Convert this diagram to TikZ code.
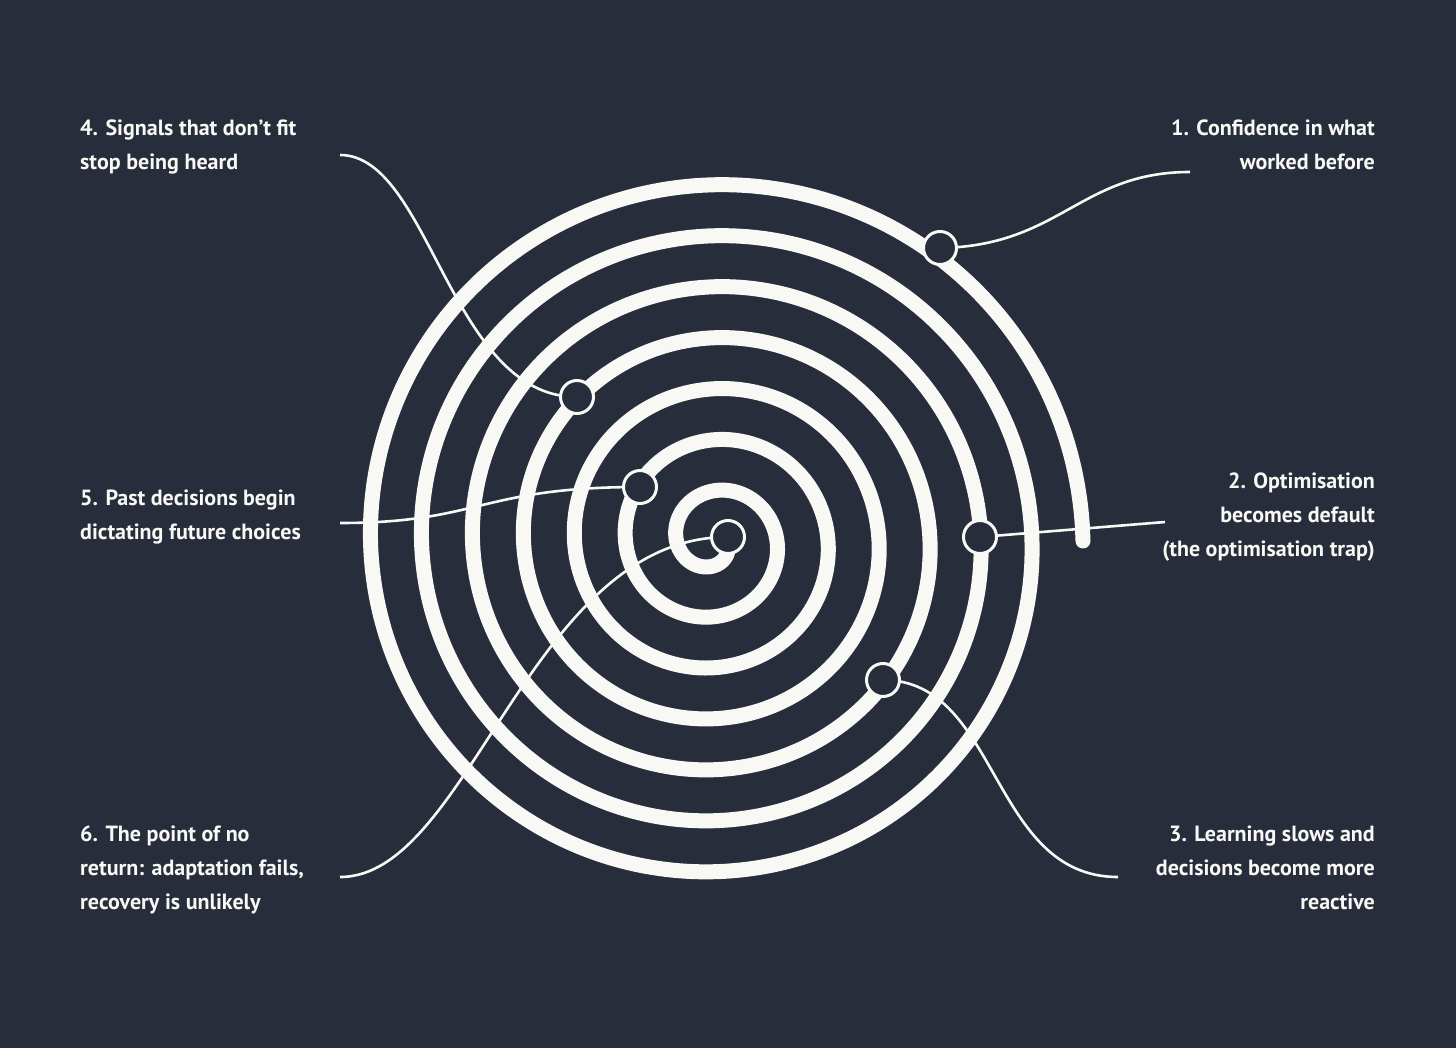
\documentclass[tikz,border=0pt]{standalone}
\usepackage{fontspec}
\setmainfont{PT Sans}
\definecolor{bg}{HTML}{282D3C}
\definecolor{fg}{HTML}{F8F8F5}
\begin{document}
\begin{tikzpicture}[x=1pt,y=-1pt,
  spiral/.style={draw=fg,line width=15pt,line cap=round},
  leader/.style={draw=fg,line width=2.6pt},
  dotnode/.style={circle,fill=bg,draw=fg,line width=3pt,minimum size=33pt,inner sep=0pt},
  lbl/.style={text=fg,font=\bfseries\fontsize{22}{34}\selectfont,inner sep=0pt,align=left},
  rlbl/.style={lbl,align=right}]
\fill[bg] (0,0) rectangle (1456,1048);
\useasboundingbox (0,0) rectangle (1456,1048);
\draw[spiral] plot[domain=0:7,samples=900,smooth,variable=\t]
  ({714+(369-51*\t)*cos(360*\t)},{541-(369-51*\t)*sin(360*\t)});
% labels
\node[rlbl,anchor=north east] (t1) at (1375,120) {1. Confidence in what\\worked before};
\node[rlbl,anchor=north east] (t2) at (1375,473) {2. Optimisation\\becomes default\\(the optimisation trap)};
\node[rlbl,anchor=north east] (t3) at (1375,826) {3. Learning slows and\\decisions become more\\reactive};
\node[lbl,anchor=north west] (t4) at (80,120) {4. Signals that don’t fit\\stop being heard};
\node[lbl,anchor=north west] (t5) at (80,490) {5. Past decisions begin\\dictating future choices};
\node[lbl,anchor=north west] (t6) at (80,826) {6. The point of no\\return: adaptation fails,\\recovery is unlikely};
% leader ends
\coordinate (e1) at (1190,172);
\coordinate (e2) at (1165,522);
\coordinate (e3) at (1118,877);
\coordinate (e4) at (340,155);
\coordinate (e5) at (340,523);
\coordinate (e6) at (340,877);
% dots
\coordinate (p1) at (940,248);
\coordinate (p2) at (980,537);
\coordinate (p3) at (883,680);
\coordinate (p4) at (577,397);
\coordinate (p5) at (640,487);
\coordinate (p6) at (728,537);
% leaders
\draw[leader] (p1) .. controls (1060,246) and (1080,172) .. (e1);
\draw[leader] (p2) -- (e2);
\draw[leader] (p3) .. controls (1000,680) and (990,877) .. (e3);
\draw[leader] (e4) .. controls (430,155) and (450,397) .. (p4);
\draw[leader] (e5) .. controls (480,523) and (480,487) .. (p5);
\draw[leader] (e6) .. controls (470,877) and (530,537) .. (p6);
\node[dotnode] (d1) at (p1) {};
\node[dotnode] (d2) at (p2) {};
\node[dotnode] (d3) at (p3) {};
\node[dotnode] (d4) at (p4) {};
\node[dotnode] (d5) at (p5) {};
\node[dotnode] (d6) at (p6) {};
\end{tikzpicture}
\end{document}
